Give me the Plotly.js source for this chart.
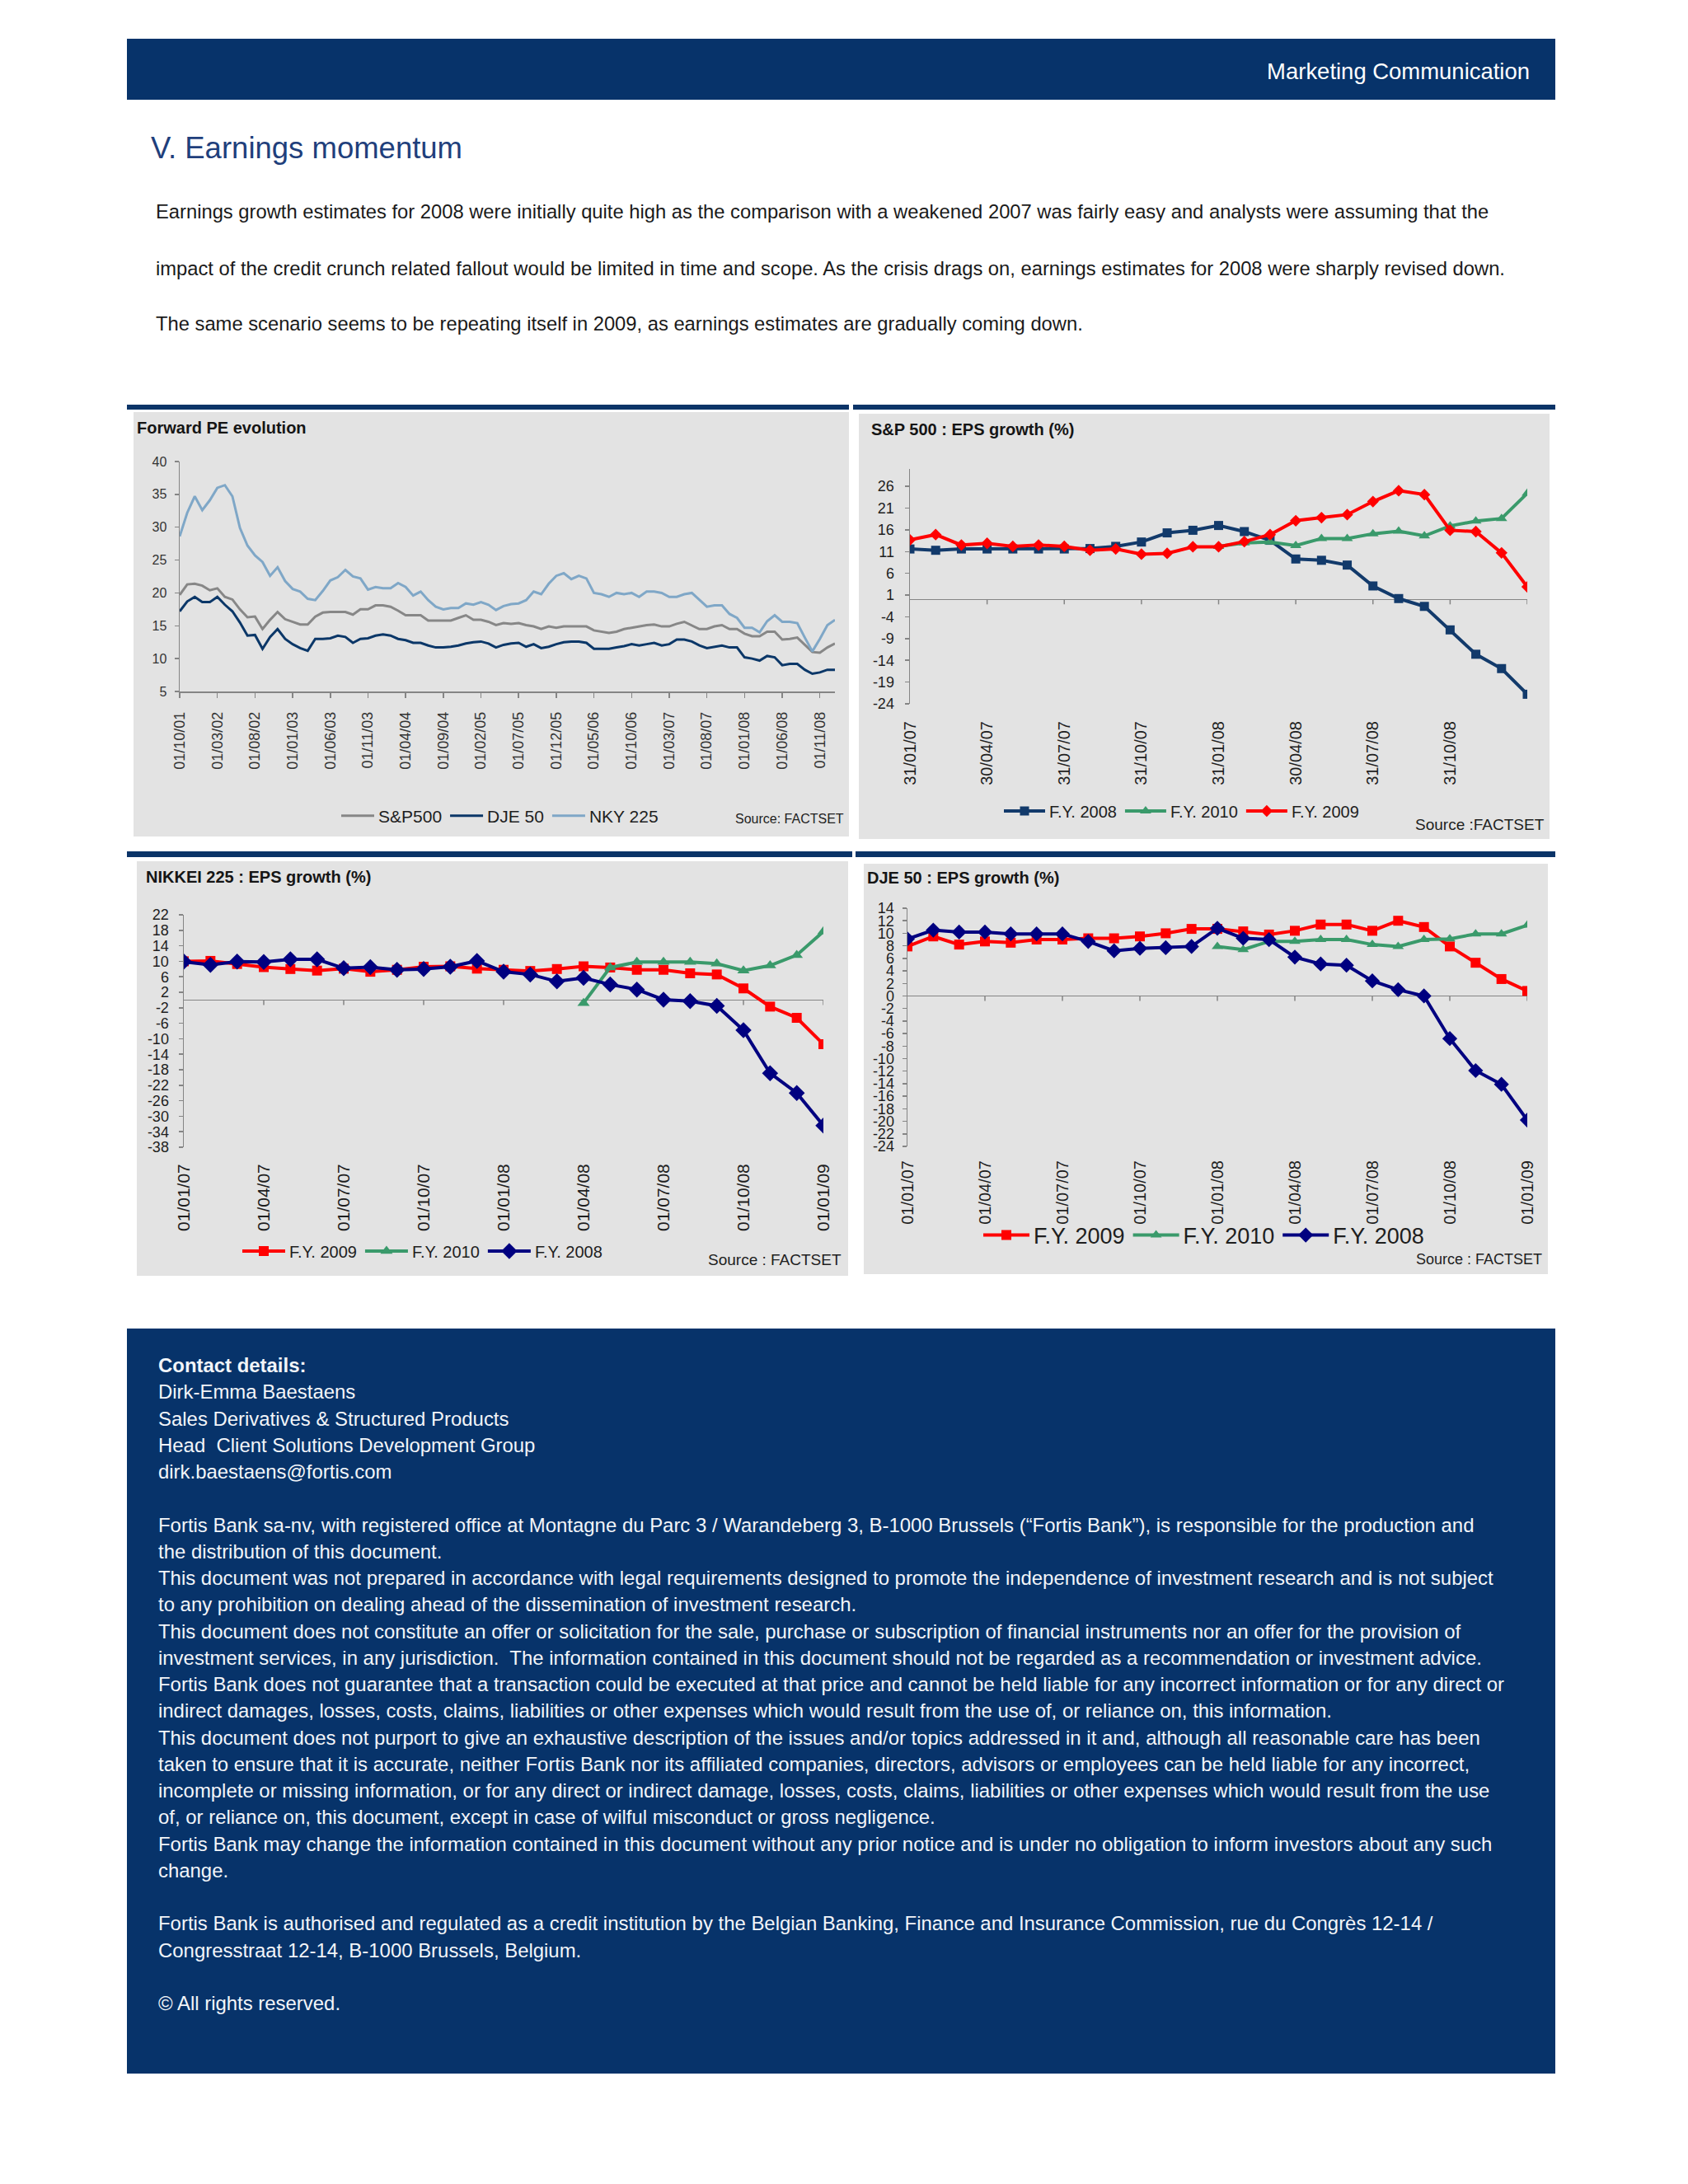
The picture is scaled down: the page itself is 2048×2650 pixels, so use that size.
<!DOCTYPE html>
<html><head><meta charset="utf-8">
<script src="https://cdn.plot.ly/plotly-3.0.1.min.js"></script>
<style>
html,body{margin:0;padding:0;background:#ffffff;}
body{width:2048px;height:2650px;position:relative;overflow:hidden;font-family:"Liberation Sans",Arial,sans-serif;}
.a{position:absolute;}
.band{background:#07336a;}
.rule{background:#0b3468;}
.t{position:absolute;white-space:pre;}
.para{font-size:23.6px;line-height:30px;color:#1a1a1a;left:189px;}
#foot{left:192px;top:1641px;font-size:23.8px;line-height:32.25px;color:#f2f5f9;}
</style></head><body>

<div class="a band" style="left:154px;top:47px;width:1733px;height:74px;"></div>
<div class="t" id="mc" style="right:192px;top:70px;font-size:27.5px;line-height:34px;color:#ffffff;">Marketing Communication</div>

<div class="t" style="left:183px;top:158px;font-size:36.5px;line-height:44px;color:#1f3f7c;">V. Earnings momentum</div>
<div class="t para" id="p1" style="top:242px;">Earnings growth estimates for 2008 were initially quite high as the comparison with a weakened 2007 was fairly easy and analysts were assuming that the</div>
<div class="t para" id="p2" style="top:311px;">impact of the credit crunch related fallout would be limited in time and scope. As the crisis drags on, earnings estimates for 2008 were sharply revised down.</div>
<div class="t para" id="p3" style="top:378px;">The same scenario seems to be repeating itself in 2009, as earnings estimates are gradually coming down.</div>

<div class="a rule" style="left:154px;top:491px;width:876px;height:6px;"></div>
<div class="a rule" style="left:1035px;top:491px;width:852px;height:6px;"></div>
<div class="a rule" style="left:154px;top:1033px;width:880px;height:7px;"></div>
<div class="a rule" style="left:1038px;top:1033px;width:849px;height:7px;"></div>

<div id="c1" class="a" style="left:162px;top:500px;width:868px;height:515px;"></div>
<div id="c2" class="a" style="left:1042px;top:502px;width:838px;height:516px;"></div>
<div id="c3" class="a" style="left:166px;top:1045px;width:863px;height:503px;"></div>
<div id="c4" class="a" style="left:1048px;top:1048px;width:830px;height:498px;"></div>

<div class="a band" style="left:154px;top:1612px;width:1733px;height:904px;"></div>
<div id="foot" class="t"><b>Contact details:</b>
Dirk-Emma Baestaens
Sales Derivatives &amp; Structured Products
Head&nbsp; Client Solutions Development Group
dirk.baestaens@fortis.com

<span id="fl1">Fortis Bank sa-nv, with registered office at Montagne du Parc 3 / Warandeberg 3, B-1000 Brussels (“Fortis Bank”), is responsible for the production and</span>
the distribution of this document.
This document was not prepared in accordance with legal requirements designed to promote the independence of investment research and is not subject
to any prohibition on dealing ahead of the dissemination of investment research.
This document does not constitute an offer or solicitation for the sale, purchase or subscription of financial instruments nor an offer for the provision of
investment services, in any jurisdiction.&nbsp; The information contained in this document should not be regarded as a recommendation or investment advice.
Fortis Bank does not guarantee that a transaction could be executed at that price and cannot be held liable for any incorrect information or for any direct or
indirect damages, losses, costs, claims, liabilities or other expenses which would result from the use of, or reliance on, this information.
This document does not purport to give an exhaustive description of the issues and/or topics addressed in it and, although all reasonable care has been
taken to ensure that it is accurate, neither Fortis Bank nor its affiliated companies, directors, advisors or employees can be held liable for any incorrect,
incomplete or missing information, or for any direct or indirect damage, losses, costs, claims, liabilities or other expenses which would result from the use
of, or reliance on, this document, except in case of wilful misconduct or gross negligence.
Fortis Bank may change the information contained in this document without any prior notice and is under no obligation to inform investors about any such
change.

Fortis Bank is authorised and regulated as a credit institution by the Belgian Banking, Finance and Insurance Commission, rue du Congrès 12-14 /
Congresstraat 12-14, B-1000 Brussels, Belgium.

© All rights reserved.</div>

<script>
// ---------------- DATA ----------------
// Chart 1: Forward PE evolution (monthly, 01/10/01 .. 01/01/09)
const peDates = [];
(function(){ let m = 10, y = 1; for (let k = 0; k < 88; k++) { peDates.push('01/' + String(m).padStart(2,'0') + '/' + String(y).padStart(2,'0')); m++; if (m > 12) { m = 1; y++; } } })();
const peTicks = ['01/10/01','01/03/02','01/08/02','01/01/03','01/06/03','01/11/03','01/04/04','01/09/04','01/02/05','01/07/05','01/12/05','01/05/06','01/10/06','01/03/07','01/08/07','01/01/08','01/06/08','01/11/08'];
const peSP500 = [19.7,21.3,21.4,21.1,20.4,20.7,19.4,19.0,17.5,16.3,16.4,14.5,15.9,17.1,16.0,15.6,15.2,15.2,16.4,17.0,17.1,17.1,17.1,16.7,17.5,17.5,18.1,18.1,17.9,17.3,16.6,16.6,16.6,15.8,15.8,15.8,15.8,16.2,16.6,15.9,15.9,15.6,15.1,15.4,15.3,15.4,15.1,14.9,14.5,14.9,14.7,14.9,14.9,14.9,14.9,14.3,14.1,13.9,14.1,14.5,14.7,14.9,15.1,15.2,14.9,14.9,15.3,15.6,15.1,14.5,14.5,14.9,15.1,14.5,14.5,13.8,13.4,13.4,14.1,14.1,12.9,13.0,13.2,12.1,11.0,10.9,11.7,12.3];
const peDJE50 = [17.2,18.7,19.4,18.6,18.6,19.4,18.2,17.2,15.5,13.5,13.6,11.5,13.3,14.5,13.0,12.2,11.6,11.2,13.0,13.0,13.1,13.5,13.3,12.4,13.0,13.1,13.5,13.7,13.5,13.0,12.8,12.4,12.4,12.0,11.7,11.7,11.8,12.0,12.3,12.5,12.6,12.3,11.7,12.1,12.3,12.4,11.8,12.2,11.6,11.8,12.2,12.5,12.6,12.6,12.4,11.5,11.5,11.5,11.7,11.9,12.2,12.0,12.2,12.4,12.0,12.2,12.9,12.9,12.6,12.0,11.6,11.8,12.0,11.7,11.7,10.2,10.0,9.7,10.4,10.2,9.0,9.2,9.2,8.3,7.7,7.9,8.3,8.3];
const peNKY225 = [28.6,32.2,34.7,32.6,34.1,36.0,36.4,34.7,29.9,27.2,25.7,24.7,22.6,23.9,21.8,20.6,20.2,19.1,18.9,20.3,21.9,22.4,23.5,22.5,22.2,20.5,20.9,20.7,20.7,21.5,20.9,19.6,20.2,18.9,17.9,17.5,17.7,17.7,18.4,18.2,18.6,18.2,17.4,18.0,18.3,18.4,18.9,20.2,19.8,21.4,22.6,23.0,22.1,22.6,22.2,20.0,19.8,19.4,20.0,19.8,20.0,19.4,20.2,20.2,20.0,19.4,19.4,19.8,20.0,19.0,17.9,18.1,18.1,16.8,16.2,14.7,14.7,14.0,15.7,16.6,15.6,15.6,15.4,13.2,11.1,13.0,15.1,15.9];

// Chart 2: S&P 500 EPS growth (%)
const spDates = ['31/01/07','28/02/07','31/03/07','30/04/07','31/05/07','30/06/07','31/07/07','31/08/07','30/09/07','31/10/07','30/11/07','31/12/07','31/01/08','29/02/08','31/03/08','30/04/08','31/05/08','30/06/08','31/07/08','31/08/08','30/09/08','31/10/08','30/11/08','31/12/08','31/01/09'];
const spTicks = ['31/01/07','30/04/07','31/07/07','31/10/07','31/01/08','30/04/08','31/07/08','31/10/08'];
const spYTicks = [-24,-19,-14,-9,-4,1,6,11,16,21,26];
const spFY2008 = [11.6,11.3,11.6,11.6,11.6,11.6,11.6,11.7,12.2,13.2,15.3,15.9,17.0,15.6,13.6,9.3,9.0,7.9,3.1,0.2,-1.6,-7.0,-12.6,-15.9,-21.8];
const spFY2010 = [null,null,null,null,null,null,null,null,null,null,null,null,12.2,13.0,13.2,12.4,14.0,14.0,15.1,15.7,14.6,16.9,18.0,18.6,24.4];
const spFY2009 = [13.7,14.9,12.5,12.9,12.2,12.5,12.2,11.3,11.6,10.4,10.6,12.1,12.1,13.3,14.9,18.1,18.8,19.5,22.5,25.0,24.1,15.9,15.6,10.7,2.9];

// Chart 3: NIKKEI 225 EPS growth (%)
const nkDates = ['01/01/07','01/02/07','01/03/07','01/04/07','01/05/07','01/06/07','01/07/07','01/08/07','01/09/07','01/10/07','01/11/07','01/12/07','01/01/08','01/02/08','01/03/08','01/04/08','01/05/08','01/06/08','01/07/08','01/08/08','01/09/08','01/10/08','01/11/08','01/12/08','01/01/09'];
const nkTicks = ['01/01/07','01/04/07','01/07/07','01/10/07','01/01/08','01/04/08','01/07/08','01/10/08','01/01/09'];
const nkYTicks = [-38,-34,-30,-26,-22,-18,-14,-10,-6,-2,2,6,10,14,18,22];
const nkFY2009 = [10.0,10.1,9.3,8.5,8.0,7.6,8.1,7.3,7.8,8.6,8.7,8.1,7.8,7.5,8.0,8.7,8.4,7.8,7.8,6.9,6.6,3.0,-1.7,-4.6,-11.4];
const nkFY2010 = [null,null,null,null,null,null,null,null,null,null,null,null,null,null,null,-0.8,8.4,9.8,9.8,9.8,9.4,7.6,8.9,11.6,17.7];
const nkFY2008 = [9.9,9.1,9.9,9.8,10.5,10.5,8.2,8.5,7.8,8.0,8.6,10.1,7.3,6.6,4.8,5.7,4.0,2.7,0.1,-0.3,-1.5,-7.8,-18.9,-24.0,-32.4];

// Chart 4: DJE 50 EPS growth (%)
const djDates = ['01/01/07','01/02/07','01/03/07','01/04/07','01/05/07','01/06/07','01/07/07','01/08/07','01/09/07','01/10/07','01/11/07','01/12/07','01/01/08','01/02/08','01/03/08','01/04/08','01/05/08','01/06/08','01/07/08','01/08/08','01/09/08','01/10/08','01/11/08','01/12/08','01/01/09'];
const djTicks = ['01/01/07','01/04/07','01/07/07','01/10/07','01/01/08','01/04/08','01/07/08','01/10/08','01/01/09'];
const djYTicks = [-24,-22,-20,-18,-16,-14,-12,-10,-8,-6,-4,-2,0,2,4,6,8,10,12,14];
const djFY2009 = [7.9,9.5,8.2,8.7,8.5,9.0,9.0,9.2,9.2,9.5,10.0,10.7,10.7,10.3,9.8,10.4,11.4,11.4,10.4,12.0,11.0,7.9,5.3,2.7,0.8];
const djFY2010 = [null,null,null,null,null,null,null,null,null,null,null,null,7.9,7.4,8.7,8.7,9.0,9.0,8.2,7.9,9.0,9.1,9.9,9.9,11.3];
const djFY2008 = [9.1,10.5,10.2,10.2,9.9,9.9,9.9,8.7,7.2,7.6,7.7,7.9,10.8,9.2,9.0,6.2,5.1,4.9,2.4,1.0,0.0,-6.8,-11.9,-14.1,-19.8];

// ---------------- STYLE / HELPERS ----------------
const FONT = '"Liberation Sans", Arial, sans-serif';
const PANEL = '#e3e3e3';
const AXIS = '#858585';
const TXT = '#1e1e1e';
const CFG = {staticPlot: true, displayModeBar: false};

function toPaper(W, H, m, px, py) {
  return {x: (px - m.l) / (W - m.l - m.r), y: (H - m.b - py) / (H - m.t - m.b)};
}
function baseLayout(W, H, m, title, tx, ty) {
  return {
    width: W, height: H, margin: {l: m.l, r: m.r, t: m.t, b: m.b, pad: 0},
    paper_bgcolor: PANEL, plot_bgcolor: PANEL,
    font: {family: FONT, color: TXT},
    title: {text: title, font: {family: FONT, size: 20, weight: 'bold', color: '#151515'},
            x: tx / W, xref: 'container', xanchor: 'left', y: 1 - ty / H, yref: 'container', yanchor: 'middle'},
    showlegend: true
  };
}
function legendAt(W, H, px, py, size, iw) {
  return {orientation: 'h', xref: 'container', yref: 'container', x: px / W, y: 1 - py / H,
          xanchor: 'left', yanchor: 'middle', font: {family: FONT, size: size, color: TXT},
          bgcolor: 'rgba(0,0,0,0)', itemwidth: iw, traceorder: 'normal', tracegroupgap: 0};
}
function sourceAnn(W, H, m, text, pxRight, py, size) {
  const p = toPaper(W, H, m, pxRight, py);
  return {text: text, xref: 'paper', yref: 'paper', x: p.x, y: p.y, xanchor: 'right', yanchor: 'middle',
          showarrow: false, font: {family: FONT, size: size, color: TXT}};
}
function zeroTicks(cats) {
  const out = [];
  cats.forEach(function (c, i) {
    if (i > 0 && i % 3 === 0) {
      out.push({type: 'line', xref: 'x', yref: 'y', x0: i, x1: i, ysizemode: 'pixel', yanchor: 0, y0: 0, y1: -6,
                line: {color: AXIS, width: 1.5}, layer: 'below'});
    }
  });
  return out;
}
function epsXAxis(cats, ticks, size, standoff) {
  return {type: 'category', range: [0, cats.length - 1], tickmode: 'array', tickvals: ticks, ticktext: ticks,
          tickangle: -90, ticks: '', showline: false, showgrid: false, zeroline: false,
          tickfont: {family: FONT, size: size, color: TXT}, ticklabelstandoff: standoff, automargin: false};
}
function epsYAxis(lo, hi, vals, size, standoff) {
  return {range: [lo, hi], tickmode: 'array', tickvals: vals, ticktext: vals.map(function (v) { return String(v); }),
          ticks: 'outside', ticklen: 5, tickwidth: 1.5,
          tickcolor: AXIS, showline: true, linecolor: AXIS, linewidth: 1.5, showgrid: false,
          zeroline: true, zerolinecolor: AXIS, zerolinewidth: 1.5,
          tickfont: {family: FONT, size: size, color: TXT}, ticklabelstandoff: standoff, automargin: false};
}
function series(name, x, y, color, symbol, msize, lw) {
  return {type: 'scatter', mode: 'lines+markers', name: name, x: x, y: y, connectgaps: false,
          line: {color: color, width: lw}, marker: {color: color, symbol: symbol, size: msize, line: {width: 0}}};
}

// ---------------- CHART 1 ----------------
(function () {
  const W = 868, H = 515, m = {l: 56, r: 17, t: 60, b: 176};
  const L = baseLayout(W, H, m, 'Forward PE evolution', 4, 19);
  L.xaxis = {type: 'category', range: [0, peDates.length - 1], tickmode: 'array', tickvals: peTicks, ticktext: peTicks,
             tickangle: -90, ticks: 'outside', ticklen: 6, tickwidth: 1.5, tickcolor: AXIS, showline: true,
             linecolor: AXIS, linewidth: 1.5, showgrid: false, zeroline: false,
             tickfont: {family: FONT, size: 18, color: '#333'}, ticklabelstandoff: 10, automargin: false};
  L.yaxis = {range: [5, 40], tickmode: 'linear', tick0: 5, dtick: 5, ticks: 'outside', ticklen: 5, tickwidth: 1.5,
             tickcolor: AXIS, showline: true, linecolor: AXIS, linewidth: 1.5, showgrid: false, zeroline: false,
             tickfont: {family: FONT, size: 16, color: '#333'}, ticklabelstandoff: 6, automargin: false};
  L.legend = legendAt(W, H, 247, 490, 21, 40);
  L.annotations = [sourceAnn(W, H, m, 'Source: FACTSET', 864, 493, 16)];
  const tr = [
    {type: 'scatter', mode: 'lines', name: 'S&P500', x: peDates, y: peSP500, line: {color: '#878787', width: 3}},
    {type: 'scatter', mode: 'lines', name: 'DJE 50', x: peDates, y: peDJE50, line: {color: '#0b3768', width: 3}},
    {type: 'scatter', mode: 'lines', name: 'NKY 225', x: peDates, y: peNKY225, line: {color: '#7fa7c7', width: 3}}
  ];
  Plotly.newPlot('c1', tr, L, CFG);
})();

// ---------------- CHART 2 ----------------
(function () {
  const W = 838, H = 516, m = {l: 62, r: 27, t: 67, b: 164};
  const L = baseLayout(W, H, m, 'S&amp;P 500 : EPS growth (%)', 15, 19);
  L.xaxis = epsXAxis(spDates, spTicks, 20, 16);
  L.yaxis = epsYAxis(-24, 30, spYTicks, 18, 9);
  L.shapes = zeroTicks(spDates);
  L.legend = legendAt(W, H, 171, 482, 20, 50);
  L.annotations = [sourceAnn(W, H, m, 'Source :FACTSET', 834, 498, 19)];
  const tr = [
    series('F.Y. 2008', spDates, spFY2008, '#123a6b', 'square', 11, 4),
    series('F.Y. 2010', spDates, spFY2010, '#3a9a6b', 'triangle-up', 12, 4),
    series('F.Y. 2009', spDates, spFY2009, '#ff0000', 'diamond', 11, 4)
  ];
  Plotly.newPlot('c2', tr, L, CFG);
})();

// ---------------- CHART 3 ----------------
(function () {
  const W = 863, H = 503, m = {l: 57, r: 30, t: 65, b: 156};
  const L = baseLayout(W, H, m, 'NIKKEI 225 : EPS growth (%)', 11, 19);
  L.xaxis = epsXAxis(nkDates, nkTicks, 21, 15);
  L.yaxis = epsYAxis(-38, 22, nkYTicks, 18, 8);
  L.shapes = zeroTicks(nkDates);
  L.legend = legendAt(W, H, 123, 473, 20, 52);
  L.annotations = [sourceAnn(W, H, m, 'Source : FACTSET', 857, 483, 19)];
  const tr = [
    series('F.Y. 2009', nkDates, nkFY2009, '#ff0000', 'square', 12, 4),
    series('F.Y. 2010', nkDates, nkFY2010, '#3a9a6b', 'triangle-up', 13, 4),
    series('F.Y. 2008', nkDates, nkFY2008, '#000080', 'diamond', 15, 4)
  ];
  Plotly.newPlot('c3', tr, L, CFG);
})();

// ---------------- CHART 4 ----------------
(function () {
  const W = 830, H = 498, m = {l: 53, r: 25, t: 54, b: 155};
  const L = baseLayout(W, H, m, 'DJE 50 : EPS growth (%)', 4, 17);
  L.xaxis = epsXAxis(djDates, djTicks, 20, 12);
  L.yaxis = epsYAxis(-24, 14, djYTicks, 18, 6);
  L.shapes = zeroTicks(djDates);
  L.legend = legendAt(W, H, 140, 451, 27, 56);
  L.annotations = [sourceAnn(W, H, m, 'Source : FACTSET', 825, 480, 18)];
  const tr = [
    series('F.Y. 2009', djDates, djFY2009, '#ff0000', 'square', 12, 4),
    series('F.Y. 2010', djDates, djFY2010, '#3a9a6b', 'triangle-up', 12, 4),
    series('F.Y. 2008', djDates, djFY2008, '#000080', 'diamond', 14, 4)
  ];
  Plotly.newPlot('c4', tr, L, CFG);
})();

// ---------------- fit page text widths to the reference line lengths ----------------
(function () {
  function fit(el, sizeEl, target) {
    const w = el.getBoundingClientRect().width;
    if (w > 0) {
      const fs = parseFloat(getComputedStyle(sizeEl).fontSize);
      sizeEl.style.fontSize = (fs * target / w).toFixed(2) + 'px';
    }
  }
  const p1 = document.getElementById('p1');
  const w1 = p1.getBoundingClientRect().width;
  const fsP = parseFloat(getComputedStyle(p1).fontSize) * 1617 / w1;
  ['p1', 'p2', 'p3'].forEach(function (id) { document.getElementById(id).style.fontSize = fsP.toFixed(2) + 'px'; });
  fit(document.getElementById('fl1'), document.getElementById('foot'), 1597);
  fit(document.getElementById('mc'), document.getElementById('mc'), 319);
})();
</script>
</body></html>
